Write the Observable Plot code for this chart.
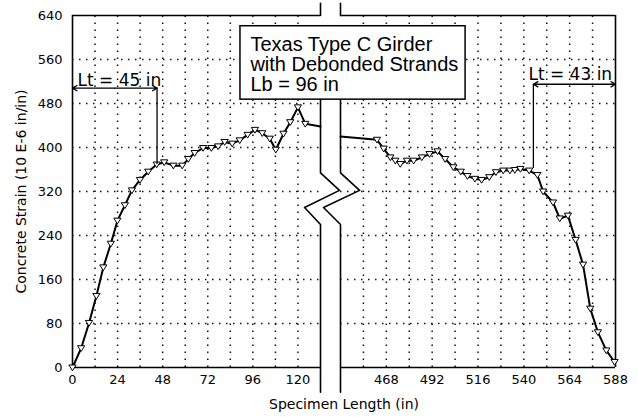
<!DOCTYPE html>
<html><head><meta charset="utf-8">
<script src="https://cdn.jsdelivr.net/npm/d3@7"></script>
<script src="https://cdn.jsdelivr.net/npm/@observablehq/plot@0.6"></script>
<style>body{margin:0;background:#fff;} #chart svg{display:block;}</style>
</head><body><div id="chart"></div>
<script>
// ---- data ----
const leftX = [0, 4.6, 8.8, 12.7, 16.4, 20.4, 23.9, 27.9, 31.6, 35.9, 40.3, 44.8, 48.8, 53.7, 58.4, 61.6, 65, 69.5, 73.9, 77.5, 81, 85, 89, 93.2, 97.1, 101, 105, 108.2, 112.3, 115.9, 120, 123.9, 132];
const leftY = [0, 35, 81, 130, 182, 225, 267, 295, 322, 341, 356, 369, 373, 367, 367, 379, 390, 399, 399, 402, 410, 407, 413, 423, 432, 426, 416, 396, 425, 446, 473, 443, 438];
const rightX = [444, 463.1, 466.6, 470.1, 472.7, 475.3, 478.8, 482.3, 486.6, 490.6, 494.8, 498.8, 503.1, 507, 510.5, 514.4, 517.9, 521.9, 525.4, 529.2, 532.7, 535.3, 538.2, 542.8, 547.1, 550.1, 555.3, 558.8, 563.1, 567.1, 571, 574.8, 578.8, 583.2, 587.5];
const rightY = [420, 414, 398, 382, 376, 370, 376, 376, 382, 388, 393, 379, 364, 356, 348, 343, 341, 346, 355, 358, 358, 359, 361, 358, 350, 320, 300, 271, 276, 232, 187, 107, 64, 31, 10];
const xTicks = [0, 24, 48, 72, 96, 120, 468, 492, 516, 540, 564, 588];
const yTicks = [0, 80, 160, 240, 320, 400, 480, 560, 640];
const gridXLeft = [12, 24, 36, 48, 60, 72, 84, 96, 108, 120];
const gridXRight = [456, 468, 480, 492, 504, 516, 528, 540, 552, 564, 576];
const gridY = [80, 160, 240, 320, 400, 480, 560];
const panels = [[0, 132], [444, 588]];
const titleLines = ["Texas Type C Girder", "with Debonded Strands", "Lb = 96 in"];
const ltLabels = ["Lt = 45 in", "Lt = 43 in"];
const ltLengths = [45, 43];
const xLabel = "Specimen Length (in)";
const yLabel = "Concrete Strain (10 E-6 in/in)";

// ---- build tables ----
const leftData = leftX.map((x, i) => ({x, y: leftY[i]}));
const rightData = rightX.map((x, i) => ({x, y: rightY[i]}));
const leftMarks = leftData.slice(0, -1);   // last point is the clip at the break
const rightMarks = rightData.slice(1);     // first point is the clip at the break
const panelRows = panels.map(([a, b]) => ({a, b}));
const gridRows = panels.flatMap(([a, b]) => gridY.map(y => ({a, b, y})));

// break symbol (in data units)
const breakLeftTop = [{x: 132, y: 662}, {x: 132, y: 640}];
const breakRightTop = [{x: 444, y: 662}, {x: 444, y: 640}];
const breakLeft = [{x: 132, y: 487}, {x: 132, y: 354}, {x: 428, y: 322}, {x: 123.5, y: 291}, {x: 132, y: 260}, {x: 132, y: -45}];
const breakRight = [{x: 444, y: 487}, {x: 444, y: 354}, {x: 454, y: 322}, {x: 179, y: 291}, {x: 444, y: 260}, {x: 444, y: -45}];

const triDown = {
  draw(ctx, size) {
    const r = Math.sqrt(size / Math.PI);
    ctx.moveTo(-r, -r * 0.7);
    ctx.lineTo(r, -r * 0.7);
    ctx.lineTo(0, r * 0.9);
    ctx.closePath();
  }
};

const dotted = {stroke: "#111", strokeWidth: 1.5, strokeDasharray: "1.5,5.5"};

const lt = [
  {label: ltLabels[0], x1: 0, x2: ltLengths[0], y: 508, yb: 369, tx: 2.7, ty: 511},
  {label: ltLabels[1], x1: 588 - ltLengths[1], x2: 588, y: 515, yb: 362, tx: 542.4, ty: 523}
];

const chart = Plot.plot({
  width: 638,
  height: 417,
  marginLeft: 72,
  marginRight: 23,
  marginTop: 15,
  marginBottom: 50,
  style: {fontFamily: "'DejaVu Sans', sans-serif", fontSize: "13px", background: "#fff", color: "#000"},
  x: {type: "linear", domain: [0, 132, 444, 588], range: [72, 320, 340, 615]},
  y: {domain: [0, 640]},
  marks: [
    // grid
    Plot.ruleY(gridRows, {y: "y", x1: "a", x2: "b", ...dotted}),
    Plot.ruleX(gridXLeft, {x: d => d, y1: 0, y2: 640, ...dotted}),
    Plot.ruleX(gridXRight, {x: d => d, y1: 0, y2: 640, ...dotted}),
    // frame
    Plot.ruleY(panelRows, {y: 0, x1: "a", x2: "b", stroke: "#000", strokeWidth: 1.6}),
    Plot.ruleY(panelRows, {y: 640, x1: "a", x2: "b", stroke: "#000", strokeWidth: 1.6}),
    Plot.ruleX([0, 588], {x: d => d, y1: 0, y2: 640, stroke: "#000", strokeWidth: 1.6}),
    // axis break
    Plot.line(breakLeftTop, {x: "x", y: "y", stroke: "#000", strokeWidth: 1.6}),
    Plot.line(breakRightTop, {x: "x", y: "y", stroke: "#000", strokeWidth: 1.6}),
    Plot.line(breakLeft, {x: "x", y: "y", stroke: "#000", strokeWidth: 1.6}),
    Plot.line(breakRight, {x: "x", y: "y", stroke: "#000", strokeWidth: 1.6}),
    // data
    Plot.line(leftData, {x: "x", y: "y", stroke: "#000", strokeWidth: 2}),
    Plot.line(rightData, {x: "x", y: "y", stroke: "#000", strokeWidth: 2}),
    Plot.dot(leftMarks, {x: "x", y: "y", symbol: triDown, r: 3.6, fill: "#fff", stroke: "#000", strokeWidth: 1}),
    Plot.dot(rightMarks, {x: "x", y: "y", symbol: triDown, r: 3.6, fill: "#fff", stroke: "#000", strokeWidth: 1}),
    // Lt annotations
    Plot.ruleX(lt, {x: d => d.x1 === 0 ? d.x2 : d.x1, y1: "y", y2: "yb", stroke: "#000", strokeWidth: 1.3}),
    Plot.arrow(lt, {x1: d => (d.x1 + d.x2) / 2, x2: "x1", y1: "y", y2: "y", stroke: "#000", strokeWidth: 1.3, headLength: 6}),
    Plot.arrow(lt, {x1: d => (d.x1 + d.x2) / 2, x2: "x2", y1: "y", y2: "y", stroke: "#000", strokeWidth: 1.3, headLength: 6}),
    Plot.text(lt, {x: "tx", y: "ty", text: "label", textAnchor: "start", lineAnchor: "bottom", fontSize: 17, fill: "#000"}),
    // title box
    Plot.rect([0], {x1: 89.4, x2: 509.5, y1: 487, y2: 620.5, fill: "#fff", stroke: "#000", strokeWidth: 1.5}),
    Plot.text([titleLines.join("\n")], {x: 94.7, y: 601.8, text: d => d, textAnchor: "start", lineAnchor: "top", lineHeight: 1.0, fontSize: 20, fontFamily: "'Liberation Sans', Arial, sans-serif", fill: "#000"}),
    // axes
    Plot.axisY({ticks: yTicks, tickSize: 0, tickPadding: 10, label: null}),
    Plot.axisX({ticks: xTicks, tickSize: 0, tickPadding: 7, label: null}),
    // axis labels
    Plot.text([yLabel], {text: d => d, frameAnchor: "left", textAnchor: "middle", lineAnchor: "middle", rotate: -90, dx: -51, fontSize: 14, fill: "#000"}),
    Plot.text([xLabel], {text: d => d, frameAnchor: "bottom", textAnchor: "middle", dy: 37, lineAnchor: "middle", fontSize: 14, fill: "#000"})
  ]
});
document.getElementById("chart").appendChild(chart);
</script>
</body></html>
